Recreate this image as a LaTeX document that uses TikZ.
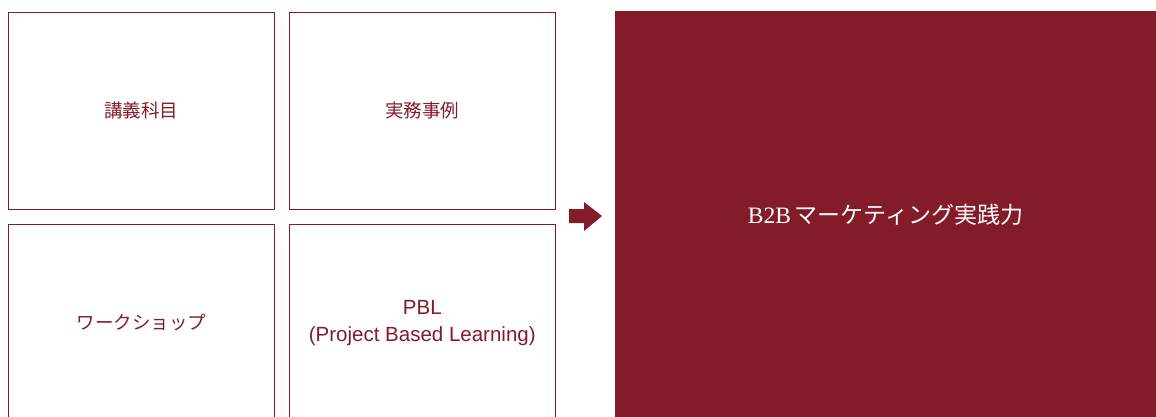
\documentclass[tikz,border=0pt]{standalone}
\usepackage{fontspec}
\setmainfont{Noto Sans CJK JP}
\newfontfamily\jpfont{Noto Sans CJK JP}
\newfontfamily\lat{Liberation Sans}
\newfontfamily\latser{Liberation Serif}
\definecolor{wine}{HTML}{841B28}
\begin{document}
\begin{tikzpicture}[x=1pt,y=-1pt,
  cell/.style={draw=wine,line width=1.6pt,fill=white,minimum width=266pt,anchor=north west,inner sep=0pt,text=wine,font=\jpfont\fontsize{18.5}{27}\selectfont,align=center},
  big/.style={fill=wine,draw=none,anchor=north west,inner sep=0pt}]
\useasboundingbox (0,0) rectangle (1156,416);
\clip (0,0) rectangle (1156,416);
\node[cell,minimum height=197pt] (a) at (7.5,11.5) {講義科目};
\node[cell,minimum height=197pt] (b) at (288.5,11.5) {実務事例};
\node[cell,minimum height=197pt] (c) at (7.5,223.5) {ワークショップ};
\node[cell,minimum height=197pt,font=\lat\fontsize{20.5}{27}\selectfont] (d) at (288.5,223.5) {PBL\\(Project Based Learning)};
\node[big,minimum width=545pt,minimum height=410pt] (e) at (615,11) {};
\node[text=white,font=\jpfont\fontsize{23}{24}\selectfont] (t) at (885.5,215) {{\latser\fontsize{23.5}{24}\selectfont B2B}\,マーケティング実践力};
\fill[wine] (569,209) -- (584,209) -- (584,202) -- (602,216) -- (584,231) -- (584,223) -- (569,223) -- cycle;
\end{tikzpicture}
\end{document}
